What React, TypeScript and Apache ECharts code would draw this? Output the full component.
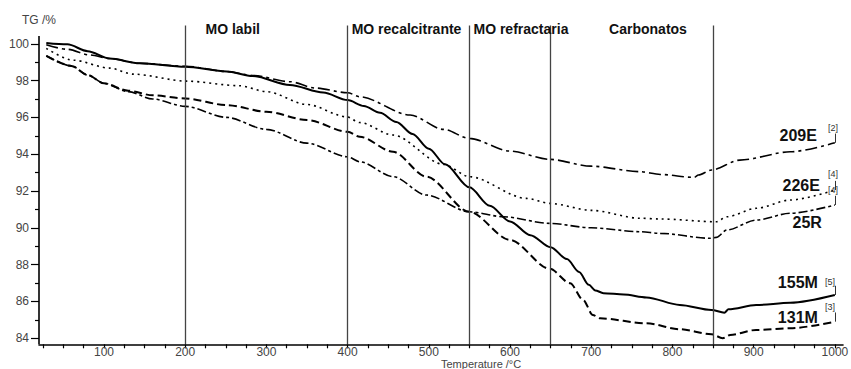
import React, { useEffect, useRef } from "react";
import * as echarts from "echarts";

// TG curves: [temperature °C, TG %]
const tg209E: [number, number][] = [
  [29, 99.95], [55, 99.7], [83, 99.39], [107, 99.2], [144, 98.94], [200, 98.78], [251, 98.5],
  [283, 98.28], [329, 97.94], [360, 97.6], [400, 97.34], [415, 97.12], [477, 96.13], [518, 95.35],
  [550, 94.86], [600, 94.17], [649, 93.72], [700, 93.35], [760, 93.05], [785, 92.9], [827, 92.74],
  [832, 92.87], [848, 93.14], [883, 93.68], [945, 94.13], [1000, 94.62],
];
const tg226E: [number, number][] = [
  [29, 99.75], [62, 99.11], [107, 98.68], [136, 98.35], [202, 97.97], [267, 97.72], [300, 97.4],
  [350, 96.7], [399, 96.03], [415, 95.72], [456, 95.04], [518, 93.45], [550, 92.78], [620, 91.6],
  [649, 91.33], [700, 90.95], [760, 90.52], [785, 90.48], [854, 90.33], [867, 90.6], [903, 91.06],
  [945, 91.51], [1000, 92.05],
];
const tg25R: [number, number][] = [
  [29, 99.35], [60, 98.8], [80, 98.3], [100, 97.85], [130, 97.4], [160, 97.0], [200, 96.6],
  [251, 96.0], [300, 95.35], [350, 94.6], [400, 93.86], [415, 93.59], [456, 92.78], [497, 91.78],
  [550, 90.87], [592, 90.6], [649, 90.24], [700, 90.0], [760, 89.79], [785, 89.7], [846, 89.43],
  [854, 89.48], [867, 89.88], [903, 90.42], [945, 90.79], [1000, 91.24],
];
const tg155M: [number, number][] = [
  [29, 100.05], [55, 99.97], [80, 99.6], [107, 99.2], [144, 98.94], [200, 98.75], [251, 98.5],
  [283, 98.25], [329, 97.76], [370, 97.35], [400, 96.94], [420, 96.62], [440, 96.25], [460, 95.75],
  [480, 95.1], [500, 94.3], [520, 93.45], [550, 92.2], [575, 91.2], [600, 90.35], [625, 89.6],
  [650, 88.95], [670, 88.3], [685, 87.6], [697, 86.9], [705, 86.6], [715, 86.45], [740, 86.38],
  [768, 86.22], [809, 85.81], [848, 85.54], [864, 85.39], [869, 85.57], [903, 85.8], [945, 85.93],
  [1000, 86.35],
];
const tg131M: [number, number][] = [
  [29, 99.35], [60, 98.8], [80, 98.3], [100, 97.85], [130, 97.45], [160, 97.2], [200, 97.03],
  [251, 96.67], [300, 96.31], [350, 95.86], [400, 95.22], [415, 94.95], [456, 94.13], [497, 92.78],
  [550, 90.87], [600, 89.34], [649, 87.77], [674, 86.99], [690, 86.08], [702, 85.26], [711, 85.08],
  [768, 84.81], [809, 84.49], [848, 84.22], [862, 84.0], [871, 84.18], [903, 84.45], [945, 84.54],
  [1000, 84.9],
];

const sampleNames = ["209E", "226E", "25R", "155M", "131M"];
const sampleRefs = ["[2]", "[4]", "[4]", "[5]", "[3]"];
const regionBounds = [200, 400, 550, 650, 850];
const regionNames = ["MO labil", "MO recalcitrante", "MO refractaria", "Carbonatos"];
const xTickValues = Array.from({ length: 40 }, (_, i) => 25 + i * 25);
const xLabelValues = [100, 200, 300, 400, 500, 600, 700, 800, 900, 1000];
const yLabelValues = [84, 86, 88, 90, 92, 94, 96, 98, 100];
const yMinorValues = [85, 87, 89, 91, 93, 95, 97, 99];

const FONT = "'Liberation Sans', Arial, sans-serif";

export default function App() {
  const ref = useRef<HTMLDivElement>(null);
  useEffect(() => {
    if (!ref.current) return;
    const chart = echarts.init(ref.current, null, { renderer: "svg" });
    const X_MIN = 20, X_MAX = 1010, Y_MIN = 83.67, Y_MAX = 101;

    const curves = [tg209E, tg226E, tg25R, tg155M, tg131M];
    const styles: any[] = [
      { type: [12, 4, 3, 4], width: 1.6 },
      { type: [2, 4], width: 1.6 },
      { type: [9, 3, 3, 3], width: 1.6 },
      { type: "solid", width: 2 },
      { type: [8, 4], width: 2 },
    ];
    const nameOffsets = [[-18, -7], [-15, -5], [-13, 18], [-17, -12], [-17, -4]];
    const refOffsets = [[-2, -15], [-2, -16], [-2, -15], [-5, -13], [-5, -15]];
    const regionLabelStarts = [225, 405, 555, 722];

    const series: any[] = curves.map((d, i) => {
      const last = d[d.length - 1];
      const markLineData: any[] = [
        [
          { coord: [last[0], last[1]], lineStyle: { color: "#333", width: 1, type: "solid" } },
          { coord: [last[0], last[1] + 0.5] },
        ],
      ];
      const markPointData: any[] = [
        {
          coord: [last[0], last[1]],
          label: {
            show: true, position: "inside", formatter: sampleNames[i], align: "right",
            verticalAlign: "middle", offset: nameOffsets[i], fontSize: 16, fontWeight: "bold",
            color: "#111", fontFamily: FONT,
          },
        },
        {
          coord: [last[0], last[1]],
          label: {
            show: true, position: "inside", formatter: sampleRefs[i], align: "center",
            verticalAlign: "middle", offset: refOffsets[i], fontSize: 9, color: "#333", fontFamily: FONT,
          },
        },
      ];
      if (i === 0) {
        regionBounds.forEach((b) => markLineData.push({ xAxis: b, lineStyle: { color: "#444", width: 1.3, type: "solid" } }));
        markLineData.push([
          { coord: [X_MIN, Y_MIN], lineStyle: { color: "#000", width: 1.6, type: "solid" } },
          { coord: [X_MIN, 100.42] },
        ]);
        regionNames.forEach((n, k) => {
          markPointData.push({
            coord: [regionLabelStarts[k], 100.8],
            label: {
              show: true, position: "inside", formatter: n, align: "left", verticalAlign: "middle",
              fontSize: 14, fontWeight: "bold", color: "#111", fontFamily: FONT,
            },
          });
        });
      }
      return {
        name: sampleNames[i],
        type: "line",
        data: d,
        showSymbol: false,
        smooth: 0.3,
        smoothMonotone: "x",
        lineStyle: { color: "#000", ...styles[i] },
        markLine: {
          silent: true, symbol: ["none", "none"], label: { show: false },
          lineStyle: { color: "#333", width: 1, type: "solid" },
          data: markLineData,
        },
        markPoint: {
          silent: true, symbol: "circle", symbolSize: 1,
          itemStyle: { color: "rgba(0,0,0,0)" },
          data: markPointData,
        },
        z: 3,
      };
    });

    chart.setOption({
      animation: false,
      backgroundColor: "#fff",
      textStyle: { fontFamily: FONT },
      grid: { left: 39, right: 8, top: 25.4, bottom: 24.7, containLabel: false, outerBoundsMode: "none" },
      xAxis: {
        type: "value", min: X_MIN, max: X_MAX,
        axisLine: { show: true, lineStyle: { color: "#000", width: 1.6 } },
        axisTick: { show: true, length: 4, customValues: xTickValues, lineStyle: { color: "#000", width: 1.2 } },
        axisLabel: {
          customValues: xLabelValues, color: "#444", fontSize: 12, lineHeight: 12, margin: 2, fontFamily: FONT,
          formatter: (v: number) => String(v),
        },
        splitLine: { show: false },
        name: "Temperature /°C", nameLocation: "middle", nameGap: 15, nameMoveOverlap: false,
        nameTextStyle: { align: "left", color: "#444", fontSize: 11, fontFamily: FONT, lineHeight: 10 },
      },
      yAxis: [
        {
          type: "value", min: Y_MIN, max: Y_MAX,
          axisLine: { show: false },
          axisTick: { show: true, length: 8, customValues: yLabelValues, lineStyle: { color: "#000", width: 1.2 } },
          axisLabel: {
            customValues: yLabelValues, color: "#444", fontSize: 12, margin: 10, fontFamily: FONT,
            formatter: (v: number) => String(v),
          },
          splitLine: { show: false },
          name: "TG /%", nameLocation: "end", nameGap: -1, nameMoveOverlap: false,
          nameTextStyle: { align: "center", color: "#444", fontSize: 12, fontFamily: FONT },
        },
        {
          type: "value", min: Y_MIN, max: Y_MAX, position: "left",
          axisLine: { show: false },
          axisTick: { show: true, length: 4, customValues: yMinorValues, lineStyle: { color: "#000", width: 1.2 } },
          axisLabel: { show: false },
          splitLine: { show: false },
        },
      ],
      series,
    });
    return () => chart.dispose();
  }, []);
  return (
    <div
      ref={ref}
      style={{ position: "fixed", left: 0, top: 0, width: 851, height: 369, background: "#fff" }}
    />
  );
}
